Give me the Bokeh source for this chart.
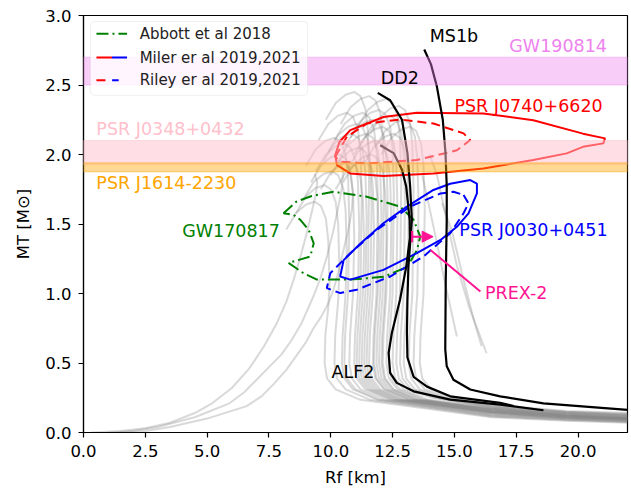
from bokeh.plotting import figure
from bokeh.models import (Label, BoxAnnotation, Arrow, NormalHead, FixedTicker,
                          PrintfTickFormatter)
from bokeh.embed import file_html
from bokeh.resources import INLINE

FONT = "DejaVu Sans"

# ---------------- data ----------------
# grey mass-radius curves of the EOS sample, R [km] and M [Msun]
gray_R = [
    [8.2, 8.6, 9.0, 9.35, 9.6, 9.8, 9.9, 9.95, 9.9, 9.78, 9.75, 9.85, 10.2, 11.2, 16.5, 19.5, 22],
    [8.6, 9.0, 9.4, 9.75, 10.0, 10.2, 10.3, 10.35, 10.3, 10.18, 10.15, 10.25, 10.6, 11.6, 16.5, 19.5, 22],
    [8.9, 9.3, 9.7, 10.05, 10.3, 10.5, 10.6, 10.65, 10.6, 10.48, 10.45, 10.55, 10.9, 11.9, 16.5, 19.5, 22],
    [9.2, 9.6, 10.0, 10.35, 10.6, 10.8, 10.9, 10.95, 10.9, 10.78, 10.75, 10.85, 11.2, 12.2, 16.5, 19.5, 22],
    [9.4, 9.8, 10.2, 10.55, 10.8, 11.0, 11.1, 11.15, 11.1, 10.98, 10.95, 11.05, 11.4, 12.4, 16.5, 19.5, 22],
    [9.6, 10.0, 10.4, 10.75, 11.0, 11.2, 11.3, 11.35, 11.3, 11.18, 11.15, 11.25, 11.6, 12.6, 16.5, 19.5, 22],
    [9.7, 10.1, 10.5, 10.85, 11.1, 11.3, 11.4, 11.45, 11.4, 11.28, 11.25, 11.35, 11.7, 12.7, 16.5, 19.5, 22],
    [9.9, 10.3, 10.7, 11.05, 11.3, 11.5, 11.6, 11.65, 11.6, 11.48, 11.45, 11.55, 11.9, 12.9, 16.5, 19.5, 22],
    [10.0, 10.4, 10.8, 11.15, 11.4, 11.6, 11.7, 11.75, 11.7, 11.58, 11.55, 11.65, 12.0, 13.0, 16.5, 19.5, 22],
    [10.15, 10.55, 10.95, 11.3, 11.55, 11.75, 11.85, 11.9, 11.85, 11.73, 11.7, 11.8, 12.15, 13.15, 16.5, 19.5, 22],
    [10.3, 10.7, 11.1, 11.45, 11.7, 11.9, 12.0, 12.05, 12.0, 11.88, 11.85, 11.95, 12.3, 13.3, 16.5, 19.5, 22],
    [10.4, 10.8, 11.2, 11.55, 11.8, 12.0, 12.1, 12.15, 12.1, 11.98, 11.95, 12.05, 12.4, 13.4, 16.5, 19.5, 22],
    [10.55, 10.95, 11.35, 11.7, 11.95, 12.15, 12.25, 12.3, 12.25, 12.13, 12.1, 12.2, 12.55, 13.55, 16.5, 19.5, 22],
    [10.7, 11.1, 11.5, 11.85, 12.1, 12.3, 12.4, 12.45, 12.4, 12.28, 12.25, 12.35, 12.7, 13.7, 16.5, 19.5, 22],
    [10.8, 11.2, 11.6, 11.95, 12.2, 12.4, 12.5, 12.55, 12.5, 12.38, 12.35, 12.45, 12.8, 13.8, 16.5, 19.5, 22],
    [10.95, 11.35, 11.75, 12.1, 12.35, 12.55, 12.65, 12.7, 12.65, 12.53, 12.5, 12.6, 12.95, 13.95, 16.5, 19.5, 22],
    [11.1, 11.5, 11.9, 12.25, 12.5, 12.7, 12.8, 12.85, 12.8, 12.68, 12.65, 12.75, 13.1, 14.1, 16.5, 19.5, 22],
    [11.25, 11.65, 12.05, 12.4, 12.65, 12.85, 12.95, 13.0, 12.95, 12.83, 12.8, 12.9, 13.25, 14.25, 16.5, 19.5, 22],
    [11.4, 11.8, 12.2, 12.55, 12.8, 13.0, 13.1, 13.15, 13.1, 12.98, 12.95, 13.05, 13.4, 14.4, 16.5, 19.5, 22],
    [11.6, 12.0, 12.4, 12.75, 13.0, 13.2, 13.3, 13.35, 13.3, 13.18, 13.15, 13.25, 13.6, 14.6, 16.5, 19.5, 22],
    [11.8, 12.2, 12.6, 12.95, 13.2, 13.4, 13.5, 13.55, 13.5, 13.38, 13.35, 13.45, 13.8, 14.8, 16.5, 19.5, 22],
    [12.05, 12.45, 12.85, 13.2, 13.45, 13.65, 13.75, 13.8, 13.75, 13.63, 13.6, 13.7, 14.05, 15.05, 16.5, 19.5, 22],
    [9.5, 9.9, 10.3, 10.65, 10.9, 11.1, 11.2, 11.25, 11.2, 11.08, 11.05, 11.15, 11.5, 12.5, 16.5, 19.5, 22],
    [10.2, 10.6, 11.0, 11.35, 11.6, 11.8, 11.9, 11.95, 11.9, 11.78, 11.75, 11.85, 12.2, 13.2, 16.5, 19.5, 22],
    [9.0, 9.4, 9.8, 10.15, 10.4, 10.6, 10.7, 10.75, 10.7, 10.58, 10.55, 10.65, 11.0, 12.0, 16.5, 19.5, 22],
    [10.5, 10.9, 11.3, 11.65, 11.9, 12.1, 12.2, 12.25, 12.2, 12.08, 12.05, 12.15, 12.5, 13.5, 16.5, 19.5, 22],
    [9.8, 10.2, 10.6, 10.95, 11.2, 11.4, 11.5, 11.55, 11.5, 11.38, 11.35, 11.45, 11.8, 12.8, 16.5, 19.5, 22],
    # curves ending at intermediate masses
    [14.0, 14.3, 14.6, 15.1, 15.6, 16.3],
    [13.7, 13.95, 14.25, 14.65, 15.1],
    [14.5, 14.9, 15.3, 15.8, 16.1],
    # self-bound (quark) stars
    [0.3, 1.5, 2.5, 3.5, 4.5, 5.2, 6.0, 6.7, 7.3, 7.8, 8.2, 8.5, 8.8, 9.05, 9.25, 9.4, 9.45, 9.35],
    [1.0, 2.0, 3.0, 4.5, 5.9, 6.5, 7.0, 7.5, 8.0, 8.4, 8.8, 9.3, 9.6, 9.85, 10.1, 10.3, 10.45, 10.5, 10.35],
    [1.5, 2.5, 3.5, 5.0, 6.6, 7.2, 7.7, 8.2, 8.6, 9.0, 9.3, 9.6, 9.85, 10.1, 10.3, 10.5, 10.7, 10.85, 10.9, 10.8, 10.6],
]
gray_M = [
    [1.46, 1.58, 1.64, 1.66, 1.63, 1.54, 1.38, 1.06, 0.90, 0.7, 0.5, 0.39, 0.31, 0.235, 0.11, 0.085, 0.07],
    [1.58, 1.70, 1.76, 1.78, 1.75, 1.66, 1.50, 1.18, 0.95, 0.7, 0.5, 0.39, 0.31, 0.235, 0.115, 0.09, 0.075],
    [1.68, 1.80, 1.86, 1.88, 1.85, 1.76, 1.60, 1.28, 1.0, 0.7, 0.5, 0.39, 0.31, 0.235, 0.12, 0.095, 0.08],
    [1.80, 1.92, 1.98, 2.00, 1.97, 1.88, 1.72, 1.40, 1.0, 0.7, 0.5, 0.39, 0.31, 0.235, 0.13, 0.10, 0.085],
    [1.88, 2.00, 2.06, 2.08, 2.05, 1.96, 1.80, 1.48, 1.0, 0.7, 0.5, 0.39, 0.31, 0.235, 0.135, 0.105, 0.09],
    [1.75, 1.87, 1.93, 1.95, 1.92, 1.83, 1.67, 1.35, 1.0, 0.7, 0.5, 0.39, 0.31, 0.235, 0.14, 0.11, 0.09],
    [1.95, 2.07, 2.13, 2.15, 2.12, 2.03, 1.87, 1.55, 1.0, 0.7, 0.5, 0.39, 0.31, 0.235, 0.145, 0.11, 0.095],
    [2.02, 2.14, 2.20, 2.22, 2.19, 2.10, 1.94, 1.62, 1.0, 0.7, 0.5, 0.39, 0.31, 0.235, 0.15, 0.115, 0.095],
    [1.85, 1.97, 2.03, 2.05, 2.02, 1.93, 1.77, 1.45, 1.0, 0.7, 0.5, 0.39, 0.31, 0.235, 0.15, 0.115, 0.10],
    [2.10, 2.22, 2.28, 2.30, 2.27, 2.18, 2.02, 1.70, 1.0, 0.7, 0.5, 0.39, 0.31, 0.235, 0.155, 0.12, 0.10],
    [1.95, 2.07, 2.13, 2.15, 2.12, 2.03, 1.87, 1.55, 1.0, 0.7, 0.5, 0.39, 0.31, 0.235, 0.16, 0.12, 0.105],
    [2.22, 2.34, 2.40, 2.42, 2.39, 2.30, 2.14, 1.82, 1.0, 0.7, 0.5, 0.39, 0.31, 0.235, 0.16, 0.125, 0.105],
    [2.05, 2.17, 2.23, 2.25, 2.22, 2.13, 1.97, 1.65, 1.0, 0.7, 0.5, 0.39, 0.31, 0.235, 0.165, 0.13, 0.11],
    [1.90, 2.02, 2.08, 2.10, 2.07, 1.98, 1.82, 1.50, 1.0, 0.7, 0.5, 0.39, 0.31, 0.235, 0.17, 0.13, 0.11],
    [2.12, 2.24, 2.30, 2.32, 2.29, 2.20, 2.04, 1.72, 1.0, 0.7, 0.5, 0.39, 0.31, 0.235, 0.17, 0.135, 0.115],
    [2.00, 2.12, 2.18, 2.20, 2.17, 2.08, 1.92, 1.60, 1.0, 0.7, 0.5, 0.39, 0.31, 0.235, 0.175, 0.135, 0.12],
    [2.20, 2.32, 2.38, 2.40, 2.37, 2.28, 2.12, 1.80, 1.0, 0.7, 0.5, 0.39, 0.31, 0.25, 0.18, 0.14, 0.12],
    [2.08, 2.20, 2.26, 2.28, 2.25, 2.16, 2.00, 1.68, 1.0, 0.7, 0.5, 0.39, 0.31, 0.25, 0.18, 0.14, 0.125],
    [1.95, 2.07, 2.13, 2.15, 2.12, 2.03, 1.87, 1.55, 1.0, 0.7, 0.5, 0.39, 0.31, 0.25, 0.185, 0.145, 0.125],
    [2.15, 2.27, 2.33, 2.35, 2.32, 2.23, 2.07, 1.75, 1.0, 0.7, 0.5, 0.39, 0.31, 0.25, 0.19, 0.15, 0.13],
    [2.05, 2.17, 2.23, 2.25, 2.22, 2.13, 1.97, 1.65, 1.0, 0.7, 0.5, 0.39, 0.31, 0.25, 0.195, 0.15, 0.135],
    [2.00, 2.12, 2.18, 2.20, 2.17, 2.08, 1.92, 1.60, 1.0, 0.7, 0.5, 0.39, 0.31, 0.25, 0.20, 0.155, 0.14],
    [2.10, 2.22, 2.28, 2.30, 2.27, 2.18, 2.02, 1.70, 1.0, 0.7, 0.5, 0.39, 0.31, 0.235, 0.14, 0.105, 0.09],
    [1.75, 1.87, 1.93, 1.95, 1.92, 1.83, 1.67, 1.35, 1.0, 0.7, 0.5, 0.39, 0.31, 0.235, 0.155, 0.12, 0.10],
    [1.92, 2.04, 2.10, 2.12, 2.09, 2.00, 1.84, 1.52, 1.0, 0.7, 0.5, 0.39, 0.31, 0.235, 0.125, 0.095, 0.08],
    [1.80, 1.92, 1.98, 2.00, 1.97, 1.88, 1.72, 1.40, 1.0, 0.7, 0.5, 0.39, 0.31, 0.235, 0.165, 0.125, 0.11],
    [2.25, 2.37, 2.43, 2.45, 2.42, 2.33, 2.17, 1.85, 1.0, 0.7, 0.5, 0.39, 0.31, 0.235, 0.145, 0.11, 0.095],
    [2.0, 1.85, 1.6, 1.2, 0.9, 0.57],
    [1.85, 1.65, 1.4, 1.05, 0.69],
    [1.65, 1.45, 1.15, 0.8, 0.62],
    [0.0, 0.01, 0.03, 0.07, 0.14, 0.21, 0.32, 0.46, 0.62, 0.78, 0.94, 1.10, 1.28, 1.45, 1.60, 1.72, 1.80, 1.86],
    [0.0, 0.01, 0.04, 0.11, 0.21, 0.29, 0.38, 0.47, 0.56, 0.66, 0.78, 0.98, 1.12, 1.27, 1.45, 1.62, 1.76, 1.88, 1.96],
    [0.0, 0.01, 0.04, 0.10, 0.19, 0.26, 0.35, 0.45, 0.55, 0.65, 0.75, 0.83, 0.91, 1.02, 1.15, 1.30, 1.45, 1.60, 1.72, 1.85, 1.95],
]

# highlighted EOS
ms1b_R = [13.78, 14.05, 14.29, 14.53, 14.64, 14.69, 14.69, 14.65, 14.63, 14.69, 14.96, 15.64, 16.85, 18.6, 22.0]
ms1b_M = [2.755, 2.65, 2.49, 2.25, 2.01, 1.77, 1.53, 1.10, 0.60, 0.476, 0.38, 0.309, 0.26, 0.21, 0.163]
dd2_R = [11.9, 12.4, 12.88, 13.1, 13.21, 13.28, 13.14, 13.1, 13.08, 13.1, 13.35, 13.89, 14.83, 16.85, 17.4]
dd2_M = [2.443, 2.39, 2.25, 2.01, 1.77, 1.53, 1.19, 0.955, 0.716, 0.54, 0.40, 0.33, 0.26, 0.213, 0.19]
alf2_R = [12.0, 12.54, 12.88, 13.05, 13.19, 13.2, 13.05, 12.8, 12.47, 12.34, 12.4, 12.67, 13.35, 14.83, 16.85, 18.6]
alf2_M = [2.067, 2.01, 1.89, 1.77, 1.53, 1.40, 1.19, 0.955, 0.716, 0.572, 0.429, 0.357, 0.296, 0.237, 0.20, 0.16]

# observational contours
gw170817_R = [8.09, 8.6, 9.2, 10.11, 11.46, 12.81, 13.35, 13.62, 13.48, 13.08, 12.14, 10.79, 9.44, 8.9, 8.29, 9.17, 9.31, 9.11, 8.77, 8.5]
gw170817_M = [1.577, 1.66, 1.70, 1.732, 1.696, 1.625, 1.53, 1.41, 1.31, 1.19, 1.12, 1.10, 1.10, 1.146, 1.22, 1.266, 1.36, 1.457, 1.53, 1.565]
j0740_miller_R = [10.18, 10.35, 10.79, 12.13, 13.48, 16.17, 18.19, 20.2, 21.09, 21.02, 20.2, 19.54, 18.19, 16.17, 14.15, 12.13, 10.79, 10.25]
j0740_miller_M = [1.996, 2.09, 2.175, 2.27, 2.30, 2.295, 2.247, 2.15, 2.116, 2.08, 2.055, 2.008, 1.96, 1.90, 1.864, 1.845, 1.864, 1.924]
j0740_riley_R = [10.18, 10.65, 11.46, 12.81, 14.15, 15.37, 15.64, 15.1, 13.48, 11.46, 10.38]
j0740_riley_M = [1.984, 2.127, 2.223, 2.252, 2.223, 2.152, 2.104, 2.03, 1.96, 1.936, 1.948]
j0030_miller_R = [15.64, 15.91, 15.91, 15.57, 15.1, 14.44, 13.48, 12.13, 10.79, 10.38, 10.52, 11.2, 12.13, 13.08, 14.15, 14.83]
j0030_miller_M = [1.816, 1.79, 1.72, 1.577, 1.48, 1.385, 1.29, 1.17, 1.10, 1.122, 1.24, 1.36, 1.505, 1.625, 1.745, 1.79]
j0030_riley_R = [15.37, 15.57, 15.37, 14.83, 13.75, 12.4, 11.05, 10.38, 9.84, 9.98, 10.79, 11.86, 13.21, 14.44, 14.96]
j0030_riley_M = [1.709, 1.649, 1.577, 1.434, 1.266, 1.122, 1.027, 1.003, 1.039, 1.146, 1.29, 1.457, 1.625, 1.72, 1.732]

# mass bands (lower, upper)
band_names = ["GW190814", "PSR J0348+0432", "PSR J1614-2230"]
band_lo = [2.50, 1.93, 1.875]
band_hi = [2.70, 2.10, 1.94]
band_colors = ["violet", "pink", "orange"]
band_alpha = [0.4, 0.5, 0.42]

# PREX-2 lower limit on R(1.4)
prex_R = [13.29, 14.14]
prex_M = 1.409

x_ticks = [0, 2.5, 5, 7.5, 10, 12.5, 15, 17.5, 20]
y_ticks = [0, 0.5, 1.0, 1.5, 2.0, 2.5, 3.0]

# ---------------- figure ----------------
p = figure(width=630, height=489, x_range=(0, 22), y_range=(0, 3),
           output_backend="svg", toolbar_location=None,
           min_border_left=83, min_border_right=3, min_border_top=15, min_border_bottom=56)
p.background_fill_color = "white"
p.border_fill_color = "white"
p.xgrid.visible = False
p.ygrid.visible = False
p.outline_line_color = "black"
p.outline_line_width = 1.2

for ax, ticks in ((p.xaxis, x_ticks), (p.yaxis, y_ticks)):
    ax.ticker = FixedTicker(ticks=ticks)
    ax.formatter = PrintfTickFormatter(format="%.1f")
    ax.minor_tick_line_color = None
    ax.major_tick_in = 0
    ax.major_tick_out = 5
    ax.major_tick_line_color = "black"
    ax.major_tick_line_width = 1.2
    ax.axis_line_color = "black"
    ax.axis_line_width = 1.2
    ax.major_label_text_font = FONT
    ax.major_label_text_font_size = "16.5px"
    ax.major_label_text_color = "black"
    ax.major_label_standoff = 7
    ax.axis_label_text_font = FONT
    ax.axis_label_text_font_size = "16.5px"
    ax.axis_label_text_font_style = "normal"
    ax.axis_label_text_color = "black"

p.xaxis.axis_label = "Rf [km]"
p.xaxis.axis_label_standoff = 8
p.yaxis.axis_label = "MT [M\u2299]"
p.yaxis.axis_label_standoff = 9

# grey EOS curves
p.multi_line(xs=gray_R, ys=gray_M, line_color="gray", line_alpha=0.3, line_width=2)

# contours
p.patch(gw170817_R, gw170817_M, fill_color=None, line_color="green", line_width=2, line_dash="12 4 2 4")
p.patch(j0740_miller_R, j0740_miller_M, fill_color=None, line_color="red", line_width=2)
p.patch(j0740_riley_R, j0740_riley_M, fill_color=None, line_color="red", line_width=2, line_dash="9 5")
p.patch(j0030_miller_R, j0030_miller_M, fill_color=None, line_color="blue", line_width=2)
p.patch(j0030_riley_R, j0030_riley_M, fill_color=None, line_color="blue", line_width=2, line_dash="9 5")

# highlighted EOS
for rr, mm in ((ms1b_R, ms1b_M), (dd2_R, dd2_M), (alf2_R, alf2_M)):
    p.line(rr, mm, line_color="black", line_width=2.2)

# PREX-2 marker
p.segment(x0=[prex_R[0]], y0=[prex_M - 0.04], x1=[prex_R[0]], y1=[prex_M + 0.04],
          line_color="deeppink", line_width=2)
p.add_layout(Arrow(x_start=prex_R[0], y_start=prex_M, x_end=prex_R[1], y_end=prex_M,
                   line_color="deeppink", line_width=2,
                   end=NormalHead(size=11, fill_color="deeppink", line_color="deeppink")))
p.add_layout(Arrow(x_start=14.03, y_start=1.313, x_end=16.05, y_end=1.014,
                   line_color="deeppink", line_width=2, end=None))

# bands (drawn above curves, like the original)
for lo, hi, c, a in zip(band_lo, band_hi, band_colors, band_alpha):
    p.add_layout(BoxAnnotation(bottom=lo, top=hi, fill_color=c, fill_alpha=a,
                               line_color=c, line_alpha=a, line_width=1))

def lab(x, y, text, color="black", size="17.5px", **kw):
    p.add_layout(Label(x=x, y=y, text=text, text_color=color, text_font=FONT,
                       text_font_size=size, text_align=kw.pop("align", "left"),
                       text_baseline=kw.pop("baseline", "middle"), **kw))

# band texts
lab(17.22, 2.782, band_names[0], "violet")
lab(0.52, 2.18, band_names[1], "pink")
lab(0.52, 1.798, band_names[2], "orange")

# curve / contour texts
lab(14.0, 2.853, "MS1b")
lab(12.02, 2.552, "DD2")
lab(10.03, 0.434, "ALF2")
lab(15.0, 2.351, "PSR J0740+6620", "red")
lab(15.2, 1.454, "PSR J0030+0451", "blue")
lab(3.99, 1.447, "GW170817", "green")
lab(16.24, 1.005, "PREX-2", "deeppink")

# legend
p.add_layout(BoxAnnotation(left=0.28, right=9.06, bottom=2.426, top=2.957,
                           fill_color="white", fill_alpha=0.8, line_color="#cccccc",
                           line_width=1, border_radius=4))
leg_y = [2.869, 2.697, 2.534]
leg_text = ["Abbott et al 2018", "Miler er al 2019,2021", "Riley er al 2019,2021"]
p.add_layout(Arrow(x_start=0.524, y_start=leg_y[0], x_end=1.76, y_end=leg_y[0], end=None,
                   line_color="green", line_width=2, line_dash="12 4 2 4"))
p.add_layout(Arrow(x_start=0.524, y_start=leg_y[1], x_end=1.15, y_end=leg_y[1], end=None,
                   line_color="red", line_width=2))
p.add_layout(Arrow(x_start=1.15, y_start=leg_y[1], x_end=1.76, y_end=leg_y[1], end=None,
                   line_color="blue", line_width=2))
p.add_layout(Arrow(x_start=0.524, y_start=leg_y[2], x_end=0.887, y_end=leg_y[2], end=None,
                   line_color="red", line_width=2))
p.add_layout(Arrow(x_start=1.157, y_start=leg_y[2], x_end=1.423, y_end=leg_y[2], end=None,
                   line_color="blue", line_width=2))
for yy, tt in zip(leg_y, leg_text):
    lab(2.27, yy, tt, "#222222", size="15px")

open("out.html", "w").write(file_html(p, INLINE))
